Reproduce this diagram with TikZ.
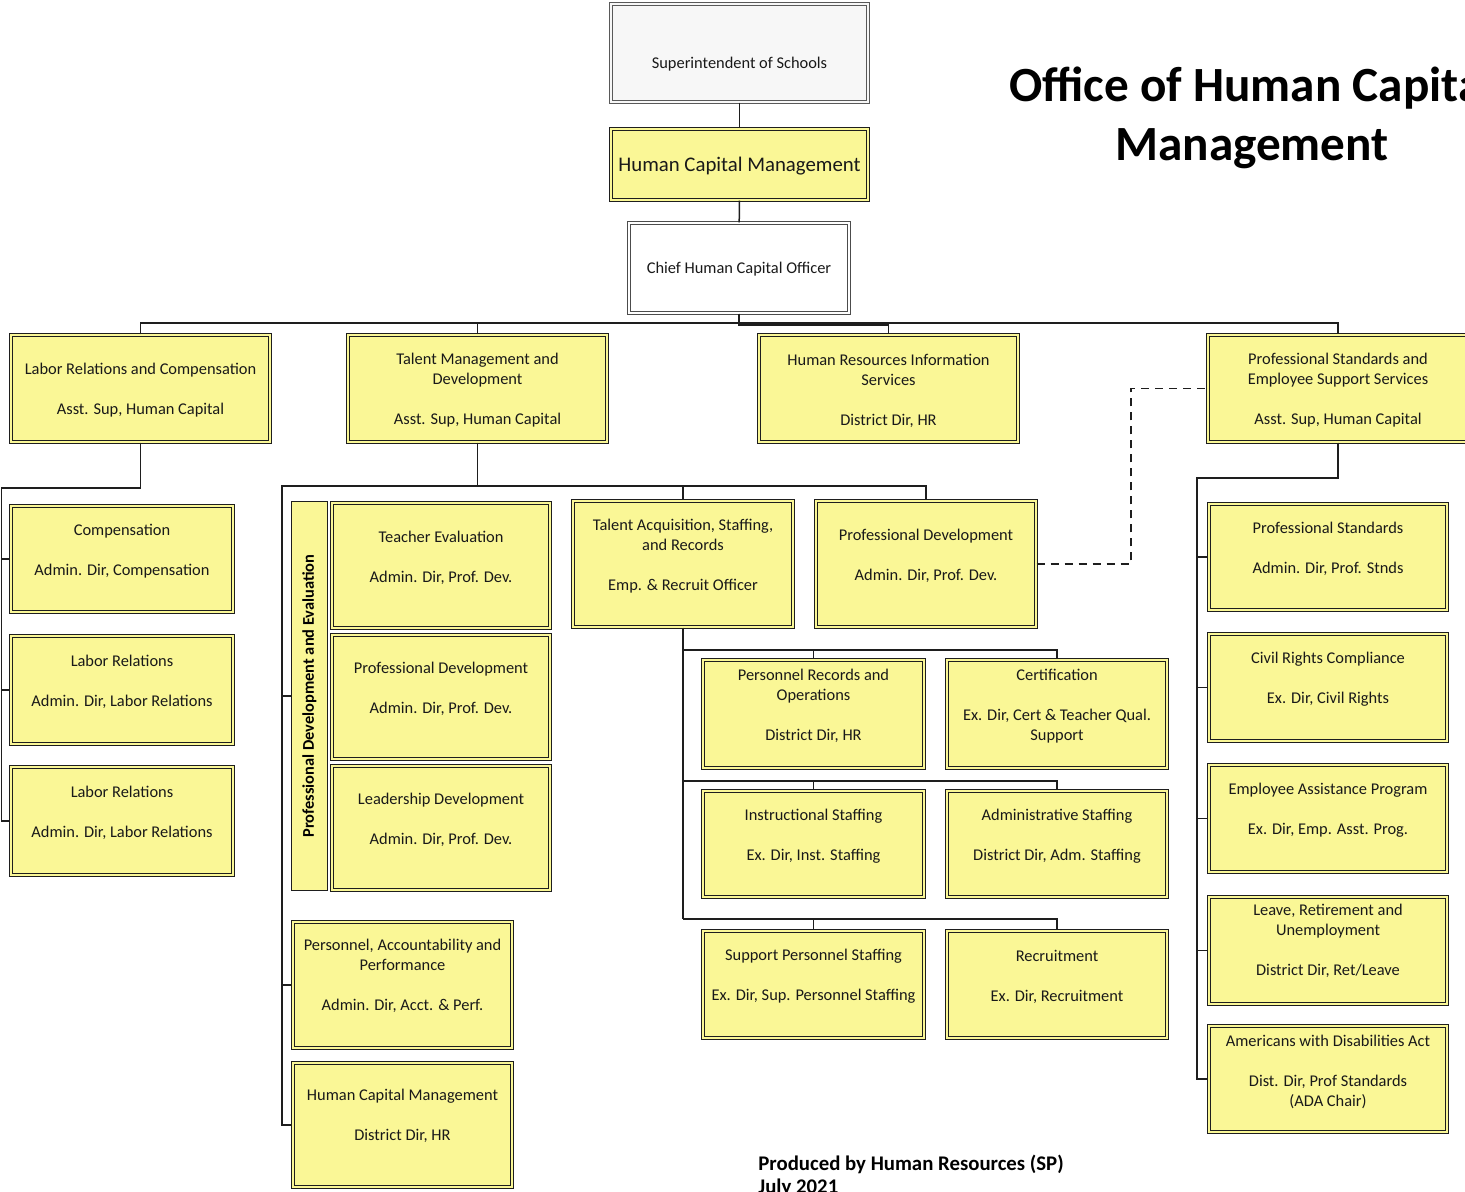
\documentclass[tikz,border=0pt]{standalone}
\usepackage{fontspec}
\setmainfont{Carlito}
\usepackage{graphicx}
\definecolor{boxyellow}{RGB}{250,247,150}
\definecolor{inkline}{RGB}{30,30,30}
\tikzset{
  conn/.style={draw=inkline, line width=0.75pt},
  box/.style={draw=inkline, line width=0.65pt, double=boxyellow, double distance=1.1pt, fill=boxyellow, inner sep=0pt},
  greybox/.style={box, draw=gray!70!black, double=gray!6, fill=gray!6},
  whitebox/.style={box, draw=gray!60!black, double=white, fill=white},
  vbox/.style={draw=inkline, line width=0.6pt, fill=boxyellow, inner sep=0pt},
  txt/.style={font=\fontsize{8.2}{10}\selectfont, align=center, inner sep=0pt, text=black!90},
}
% \orgbox[style]{name}{x1}{y1}{x2}{y2}{text y}{text}
\newcommand\orgbox[8][box]{%
  \pgfmathsetmacro\obw{(#5-#3)*0.5-2}%
  \pgfmathsetmacro\obh{(#6-#4)*0.5-2}%
  \node[#1, minimum width=\obw pt, minimum height=\obh pt] (#2) at ({(#3+#5)/2},{(#4+#6)/2}) {};%
  \node[txt] (#2-t) at ({(#3+#5)/2},{#7+2}) {#8};%
}
\begin{document}
\begin{tikzpicture}[x=0.5pt, y=-0.5pt]
\useasboundingbox (0,0) rectangle (1465,1191);
\clip (0,0) rectangle (1465,1191);

% title and footer
\node[font=\fontsize{24.6}{29}\selectfont\bfseries, anchor=base] (title1) at (1252,101) {Office of Human Capital};
\node[font=\fontsize{24.6}{29}\selectfont\bfseries, anchor=base] (title2) at (1252,160) {Management};
\node[font=\fontsize{10.4}{12}\selectfont\bfseries, anchor=base west, inner sep=0pt] (foot1) at (758,1170) {Produced by Human Resources (SP)};
\node[font=\fontsize{10.4}{12}\selectfont\bfseries, anchor=base west, inner sep=0pt] (foot2) at (758,1193) {July 2021};

% top chain
\orgbox[greybox]{sup}{609}{2}{870}{104}{62}{Superintendent of Schools}
\orgbox{hcm}{609}{127}{870}{202}{164}{\fontsize{10.4}{12}\selectfont Human Capital Management}
\orgbox[whitebox]{cho}{627}{221}{851}{315}{267}{Chief Human Capital Officer}

% second level
\orgbox{lrc}{9}{333}{272}{444}{388.5}{Labor Relations and Compensation\\[10pt]Asst. Sup, Human Capital}
\orgbox{tmd}{346}{333}{609}{444}{388.5}{Talent Management and\\Development\\[10pt]Asst. Sup, Human Capital}
\orgbox{hris}{757}{333}{1020}{444}{388.5}{Human Resources Information\\Services\\[10pt]District Dir, HR}
\orgbox{pses}{1206}{333}{1470}{444}{388.5}{Professional Standards and\\Employee Support Services\\[10pt]Asst. Sup, Human Capital}

% labor relations and compensation
\orgbox{comp}{9}{504}{235}{614}{549}{Compensation\\[10pt]Admin. Dir, Compensation}
\orgbox{lr1}{9}{634}{235}{746}{680}{Labor Relations\\[10pt]Admin. Dir, Labor Relations}
\orgbox{lr2}{9}{765}{235}{877}{810.5}{Labor Relations\\[10pt]Admin. Dir, Labor Relations}

% talent management and development
\node[vbox, minimum width=18pt, minimum height=194.5pt] (pde) at (309.5,696) {\rotatebox{90}{\fontsize{8.2}{10}\selectfont\bfseries Professional Development and Evaluation}};
\orgbox{te}{330}{501}{552}{630}{556}{Teacher Evaluation\\[10pt]Admin. Dir, Prof. Dev.}
\orgbox{pdv}{330}{633}{552}{761}{687}{Professional Development\\[10pt]Admin. Dir, Prof. Dev.}
\orgbox{ld}{330}{764}{552}{892}{818}{Leadership Development\\[10pt]Admin. Dir, Prof. Dev.}
\orgbox{pap}{291}{920}{514}{1050}{974}{Personnel, Accountability and\\Performance\\[10pt]Admin. Dir, Acct. \& Perf.}
\orgbox{hcd}{291}{1061}{514}{1189}{1114}{Human Capital Management\\[10pt]District Dir, HR}
\orgbox{tas}{571}{499}{795}{629}{554}{Talent Acquisition, Staffing,\\and Records\\[10pt]Emp. \& Recruit Officer}
\orgbox{pdm}{814}{499}{1038}{629}{554}{Professional Development\\[10pt]Admin. Dir, Prof. Dev.}

% talent acquisition, staffing and records
\orgbox{prec}{701}{658}{926}{770}{704}{Personnel Records and\\Operations\\[10pt]District Dir, HR}
\orgbox{cert}{945}{658}{1169}{770}{704}{Certification\\[10pt]Ex. Dir, Cert \& Teacher Qual.\\Support}
\orgbox{inst}{701}{789}{926}{899}{834}{Instructional Staffing\\[10pt]Ex. Dir, Inst. Staffing}
\orgbox{adm}{945}{789}{1169}{899}{834}{Administrative Staffing\\[10pt]District Dir, Adm. Staffing}
\orgbox{sps}{701}{929}{926}{1040}{974.5}{Support Personnel Staffing\\[10pt]Ex. Dir, Sup. Personnel Staffing}
\orgbox{rec}{945}{929}{1169}{1040}{974.5}{Recruitment\\[10pt]Ex. Dir, Recruitment}

% professional standards and employee support services
\orgbox{pst}{1207}{502}{1449}{612}{546.5}{Professional Standards\\[10pt]Admin. Dir, Prof. Stnds}
\orgbox{crc}{1207}{632}{1449}{743}{677}{Civil Rights Compliance\\[10pt]Ex. Dir, Civil Rights}
\orgbox{eap}{1207}{763}{1449}{874}{808.5}{Employee Assistance Program\\[10pt]Ex. Dir, Emp. Asst. Prog.}
\orgbox{lru}{1207}{895}{1449}{1006}{939}{Leave, Retirement and\\Unemployment\\[10pt]District Dir, Ret/Leave}
\orgbox{ada}{1207}{1024}{1449}{1134}{1069.5}{Americans with Disabilities Act\\[10pt]Dist. Dir, Prof Standards\\(ADA Chair)}

% connectors: top chain and main bus
\coordinate (mainbus) at (739,323);
\coordinate (hrisbend) at (739,325);
\draw[conn] (sup) -- (hcm);
\draw[conn] (hcm) -- (cho);
\draw[conn] (cho.south) -- (mainbus);
\draw[conn] (lrc.north) |- (mainbus) -| (pses.north);
\draw[conn] (tmd.north) |- (mainbus);
\draw[conn] (cho.south) |- (hrisbend) -| (hris.north);

% labor relations branch
\coordinate (lrcbus) at (1.5,488);
\draw[conn] (lrc.south) |- (lrcbus) |- (lr2.west);
\draw[conn] (lrcbus) |- (comp.west);
\draw[conn] (lrcbus) |- (lr1.west);

% talent management branch
\coordinate (tmdbus) at (282,486);
\draw[conn] (tmd.south) |- (tmdbus) |- (hcd.west);
\draw[conn] (tmdbus) |- (pde.west);
\draw[conn] (tmdbus) |- (pap.west);
\draw[conn] (tmdbus) -| (tas.north);
\draw[conn] (tmdbus) -| (pdm.north);

% talent acquisition branch
\coordinate (tasb1) at (683,650);
\coordinate (tasb2) at (683,781);
\coordinate (tasb3) at (683,919);
\draw[conn] (tas.south) -- (tasb3);
\draw[conn] (tasb1) -| (prec.north);
\draw[conn] (tasb1) -| (cert.north);
\draw[conn] (tasb2) -| (inst.north);
\draw[conn] (tasb2) -| (adm.north);
\draw[conn] (tasb3) -| (sps.north);
\draw[conn] (tasb3) -| (rec.north);

% professional standards branch
\coordinate (psbus) at (1197,478);
\draw[conn] (pses.south) |- (psbus) |- (ada.west);
\draw[conn] (psbus) |- (pst.west);
\draw[conn] (psbus) |- (crc.west);
\draw[conn] (psbus) |- (eap.west);
\draw[conn] (psbus) |- (lru.west);

% dotted-line relationship
\coordinate (dashbend) at (1131,388.5);
\draw[conn, dashed, dash pattern=on 4pt off 3pt] (pdm.east) -| (dashbend) -- (pses.west);
\end{tikzpicture}
\end{document}
